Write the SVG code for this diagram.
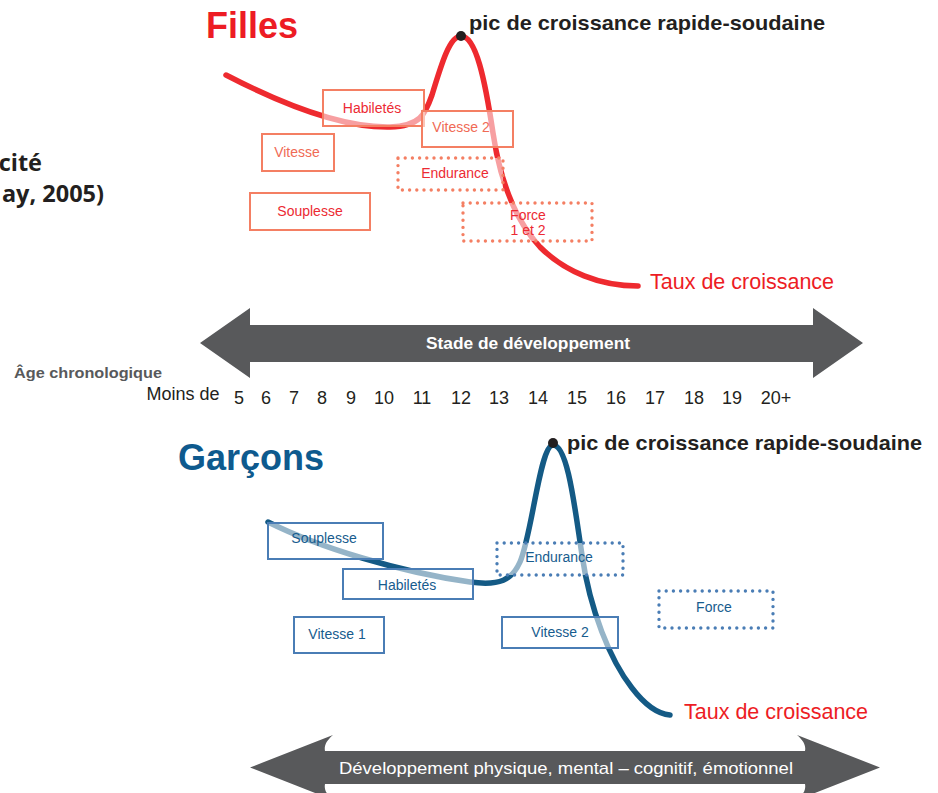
<svg xmlns="http://www.w3.org/2000/svg" width="938" height="793" viewBox="0 0 938 793">
  <style>
    .head { font-family: "Liberation Sans", Arial, sans-serif; font-weight: bold; }
    .peak { font-family: "Liberation Sans", Arial, sans-serif; font-weight: bold; font-size: 21px; fill: #231f20; }
    .rate { font-family: "Liberation Sans", Arial, sans-serif; font-size: 21.5px; fill: #ed1c24; }
    .age { font-family: "Liberation Sans", Arial, sans-serif; font-size: 18px; fill: #231f20; text-anchor: middle; }
    .lbl { font-family: "Liberation Sans", Arial, sans-serif; font-size: 14px; text-anchor: middle; }
    .rbox { fill: #ffffff; fill-opacity: 0.55; stroke: #f47f63; stroke-width: 2; }
    .rdot { fill: #ffffff; fill-opacity: 0.55; stroke: #f47f63; stroke-width: 3.4; stroke-linecap: round; stroke-dasharray: 0 7.2; }
    .bbox { fill: #ffffff; fill-opacity: 0.55; stroke: #4a7db5; stroke-width: 2; }
    .bdot { fill: #ffffff; fill-opacity: 0.55; stroke: #4a7db5; stroke-width: 3.4; stroke-linecap: round; stroke-dasharray: 0 7.2; }
    .rtxt { fill: #ec2a33; }
    .stxt { fill: #f06a55; }
    .btxt { fill: #175c8e; }
    .band { fill: #58595b; }
  </style>

  <!-- cropped caption on the left -->
  <g id="caption" font-family="'Open Sans', 'Liberation Sans', sans-serif" font-weight="bold" font-size="23.5" fill="#231f20" text-anchor="end">
    <text x="42" y="171">cité</text>
    <text x="104" y="202">ay, 2005)</text>
  </g>

  <!-- ===== Filles ===== -->
  <text id="title-filles" class="head" x="206" y="38" font-size="36" fill="#ed1c24">Filles</text>

  <g id="curves-filles">
    <path d="M226,75 C280,103 340,128 390,127 C420,126 425,115 432,95 C442,62 450,36 461,36 C476,36 485,80 493,133 C500,180 515,220 540,247 C565,272 600,286 638,286" fill="none" stroke="#ee2a2f" stroke-width="5.5" stroke-linecap="round"/>
    <circle cx="461" cy="36" r="5" fill="#231f20"/>
  </g>

  <g id="f-habiletes"><rect class="rbox" x="323" y="90" width="101" height="36"/><text class="lbl rtxt" x="372" y="113">Habiletés</text></g>
  <g id="f-vitesse2"><rect class="rbox" x="422" y="111" width="91" height="36"/><text class="lbl stxt" x="461" y="132">Vitesse 2</text></g>
  <g id="f-vitesse"><rect class="rbox" x="262" y="134" width="72" height="37"/><text class="lbl stxt" x="297" y="157">Vitesse</text></g>
  <g id="f-endurance"><rect class="rdot" x="398" y="158" width="105" height="32"/><text class="lbl rtxt" x="455" y="178">Endurance</text></g>
  <g id="f-souplesse"><rect class="rbox" x="250" y="193" width="120" height="37"/><text class="lbl rtxt" x="310" y="216">Souplesse</text></g>
  <g id="f-force"><rect class="rdot" x="463" y="203" width="129" height="38"/><text class="lbl rtxt" x="528" y="220">Force</text><text class="lbl rtxt" x="528" y="235">1 et 2</text></g>

  <text id="peak-filles" class="peak" x="469" y="30" textLength="356" lengthAdjust="spacingAndGlyphs">pic de croissance rapide-soudaine</text>
  <text id="rate-filles" class="rate" x="650" y="289">Taux de croissance</text>

  <!-- ===== development stage band ===== -->
  <g id="stage">
    <path class="band" d="M200,343 L250,308 L250,325 L813,325 L813,308 L863,343 L813,378 L813,362 L250,362 L250,378 Z"/>
    <text class="head" x="528" y="349" font-size="16" fill="#ffffff" text-anchor="middle" textLength="204" lengthAdjust="spacingAndGlyphs">Stade de développement</text>
  </g>

  <g id="age-axis">
    <text class="head" x="14" y="378" font-size="15" fill="#58595b" textLength="148" lengthAdjust="spacingAndGlyphs">Âge chronologique</text>
    <text class="age" x="183" y="400">Moins de</text>
    <text class="age" x="239" y="404">5</text>
    <text class="age" x="266" y="404">6</text>
    <text class="age" x="294" y="404">7</text>
    <text class="age" x="322" y="404">8</text>
    <text class="age" x="351" y="404">9</text>
    <text class="age" x="384" y="404">10</text>
    <text class="age" x="422" y="404">11</text>
    <text class="age" x="461" y="404">12</text>
    <text class="age" x="499" y="404">13</text>
    <text class="age" x="538" y="404">14</text>
    <text class="age" x="577" y="404">15</text>
    <text class="age" x="616" y="404">16</text>
    <text class="age" x="655" y="404">17</text>
    <text class="age" x="694" y="404">18</text>
    <text class="age" x="732" y="404">19</text>
    <text class="age" x="776" y="404">20+</text>
  </g>

  <!-- ===== Garçons ===== -->
  <text id="title-garcons" class="head" x="178" y="470" font-size="36" fill="#0e5a8e">Garçons</text>

  <g id="curves-garcons">
    <path d="M268,522 C320,548 400,572 470,582 C500,586 512,580 520,562 C532,535 540,445 553,445 C568,445 575,510 582,555 C590,610 610,660 632,688 C645,705 658,714 670,715" fill="none" stroke="#145a85" stroke-width="5.5" stroke-linecap="round"/>
    <circle cx="553" cy="443" r="5" fill="#231f20"/>
  </g>

  <g id="g-souplesse"><rect class="bbox" x="268" y="523" width="115" height="36"/><text class="lbl btxt" x="324" y="543">Souplesse</text></g>
  <g id="g-habiletes"><rect class="bbox" x="343" y="569" width="130" height="30"/><text class="lbl btxt" x="407" y="590">Habiletés</text></g>
  <g id="g-vitesse1"><rect class="bbox" x="294" y="617" width="90" height="36"/><text class="lbl btxt" x="337" y="639">Vitesse 1</text></g>
  <g id="g-endurance"><rect class="bdot" x="497" y="543" width="126" height="32"/><text class="lbl btxt" x="559" y="562">Endurance</text></g>
  <g id="g-vitesse2"><rect class="bbox" x="502" y="617" width="116" height="31"/><text class="lbl btxt" x="560" y="637">Vitesse 2</text></g>
  <g id="g-force"><rect class="bdot" x="659" y="591" width="114" height="37"/><text class="lbl btxt" x="714" y="612">Force</text></g>

  <text id="peak-garcons" class="peak" x="567" y="450" textLength="355" lengthAdjust="spacingAndGlyphs">pic de croissance rapide-soudaine</text>
  <text id="rate-garcons" class="rate" x="684" y="719">Taux de croissance</text>

  <!-- ===== overall development band ===== -->
  <g id="development">
    <path class="band" d="M250,767.5 L333,735 C326,741 324,746 325,751 L805,751 C806,746 804,741 797,735 L880,767.5 L797,800 C804,794 806,789 805,784 L325,784 C324,789 326,794 333,800 Z"/>
    <text x="566" y="774" font-family="'Liberation Sans', Arial, sans-serif" font-size="17" fill="#ffffff" text-anchor="middle" textLength="454" lengthAdjust="spacingAndGlyphs">Développement physique, mental – cognitif, émotionnel</text>
  </g>
</svg>
